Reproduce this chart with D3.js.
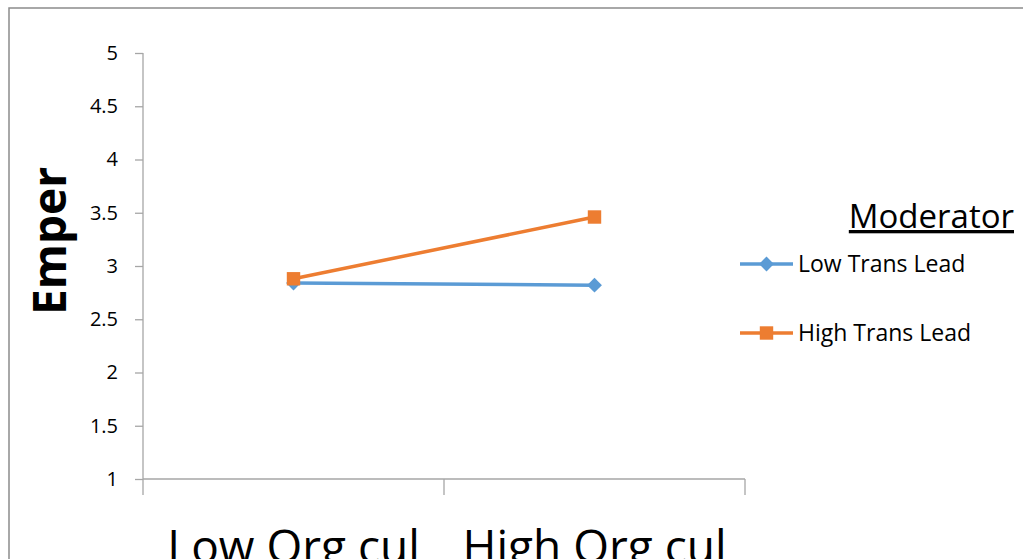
<!DOCTYPE html>
<html>
<head>
<meta charset="utf-8">
<script src="https://cdnjs.cloudflare.com/ajax/libs/d3/7.8.5/d3.min.js"></script>
<style>
  body { margin: 0; background: #fff; }
  svg { display: block; font-family: "Open Sans", "Noto Sans", sans-serif; }
</style>
</head>
<body>
<svg id="chart"></svg>
<script>
// data
const categories = ["Low Org cul", "High Org cul"];
const seriesNames = ["Low Trans Lead", "High Trans Lead"];
const lowTrans = [2.84, 2.82];
const highTrans = [2.88, 3.46];
const yTicks = [1, 1.5, 2, 2.5, 3, 3.5, 4, 4.5, 5];

const W = 1023, H = 559;
const margin = {left: 143, top: 53, plotW: 602, plotH: 426};

const svg = d3.select("#chart").attr("width", W).attr("height", H);

// chart frame (runs off the right/bottom edge)
svg.append("rect")
  .attr("x", 9).attr("y", 8)
  .attr("width", W + 20).attr("height", H + 20)
  .attr("fill", "none")
  .attr("stroke", "#8c8c8c")
  .attr("stroke-width", 1.5);

const chart = svg.append("g")
  .attr("transform", `translate(${margin.left},${margin.top})`);

const x = d3.scaleBand().domain(categories).range([0, margin.plotW]);
const y = d3.scaleLinear().domain([1, 5]).range([margin.plotH, 0]);

// y axis
const yAxis = d3.axisLeft(y).tickValues(yTicks).tickSize(8).tickPadding(17)
  .tickFormat(d => d);
const yG = chart.append("g").call(yAxis);
yG.select(".domain").remove();
yG.selectAll(".tick line").attr("stroke", "#a6a6a6").attr("stroke-width", 1.3);
yG.selectAll(".tick text").attr("fill", "#000").style("font-size", "20px")
  .style("font-family", "Open Sans, sans-serif");
chart.append("line")
  .attr("x1", 0).attr("x2", 0).attr("y1", 0).attr("y2", margin.plotH + 16)
  .attr("stroke", "#a6a6a6").attr("stroke-width", 1.3);

// x axis, ticks between categories
chart.append("line")
  .attr("x1", 0).attr("x2", margin.plotW)
  .attr("y1", margin.plotH).attr("y2", margin.plotH)
  .attr("stroke", "#a6a6a6").attr("stroke-width", 1.3);
chart.selectAll(".xtick")
  .data(categories)
  .join("line")
  .attr("class", "xtick")
  .attr("x1", d => x(d) + x.bandwidth()).attr("x2", d => x(d) + x.bandwidth())
  .attr("y1", margin.plotH).attr("y2", margin.plotH + 16)
  .attr("stroke", "#a6a6a6").attr("stroke-width", 1.3);
chart.selectAll(".xlabel")
  .data(categories)
  .join("text")
  .attr("class", "xlabel")
  .attr("x", d => x(d) + x.bandwidth() / 2)
  .attr("y", margin.plotH + 84)
  .attr("text-anchor", "middle")
  .style("font-size", "46px")
  .text(d => d);

// y title
svg.append("text")
  .attr("transform", "translate(66,241) rotate(-90)")
  .attr("text-anchor", "middle")
  .style("font-size", "46px")
  .style("font-weight", "bold")
  .text("Emper");

const colors = ["#5b9bd5", "#ed7d31"];
const series = [lowTrans, highTrans];
const cx = (d, i) => x(categories[i]) + x.bandwidth() / 2;

const line = d3.line().x(cx).y(d => y(d));
const diamond = d3.symbol().type(d3.symbolDiamond2).size(140);
const square = d3.symbol().type(d3.symbolSquare).size(180);
const markers = [diamond, square];

series.forEach((vals, s) => {
  chart.append("path")
    .datum(vals)
    .attr("d", line)
    .attr("fill", "none")
    .attr("stroke", colors[s])
    .attr("stroke-width", 3.5);
  chart.selectAll(".m" + s)
    .data(vals)
    .join("path")
    .attr("class", "m" + s)
    .attr("transform", (d, i) => `translate(${cx(d, i)},${y(d)})`)
    .attr("d", markers[s])
    .attr("fill", colors[s]);
});

// legend
svg.append("text")
  .attr("x", 1014).attr("y", 228)
  .attr("text-anchor", "end")
  .style("font-size", "33px")
  .style("text-decoration", "underline")
  .text("Moderator");

const legendY = [264, 333];
seriesNames.forEach((name, s) => {
  const g = svg.append("g").attr("transform", `translate(740,${legendY[s]})`);
  g.append("line")
    .attr("x1", 0).attr("x2", 53).attr("y1", 0).attr("y2", 0)
    .attr("stroke", colors[s]).attr("stroke-width", 3.5);
  g.append("path").attr("transform", "translate(26.5,0)")
    .attr("d", markers[s]).attr("fill", colors[s]);
  g.append("text")
    .attr("x", 58).attr("y", 8)
    .style("font-size", "23px")
    .text(name);
});
</script>
</body>
</html>
